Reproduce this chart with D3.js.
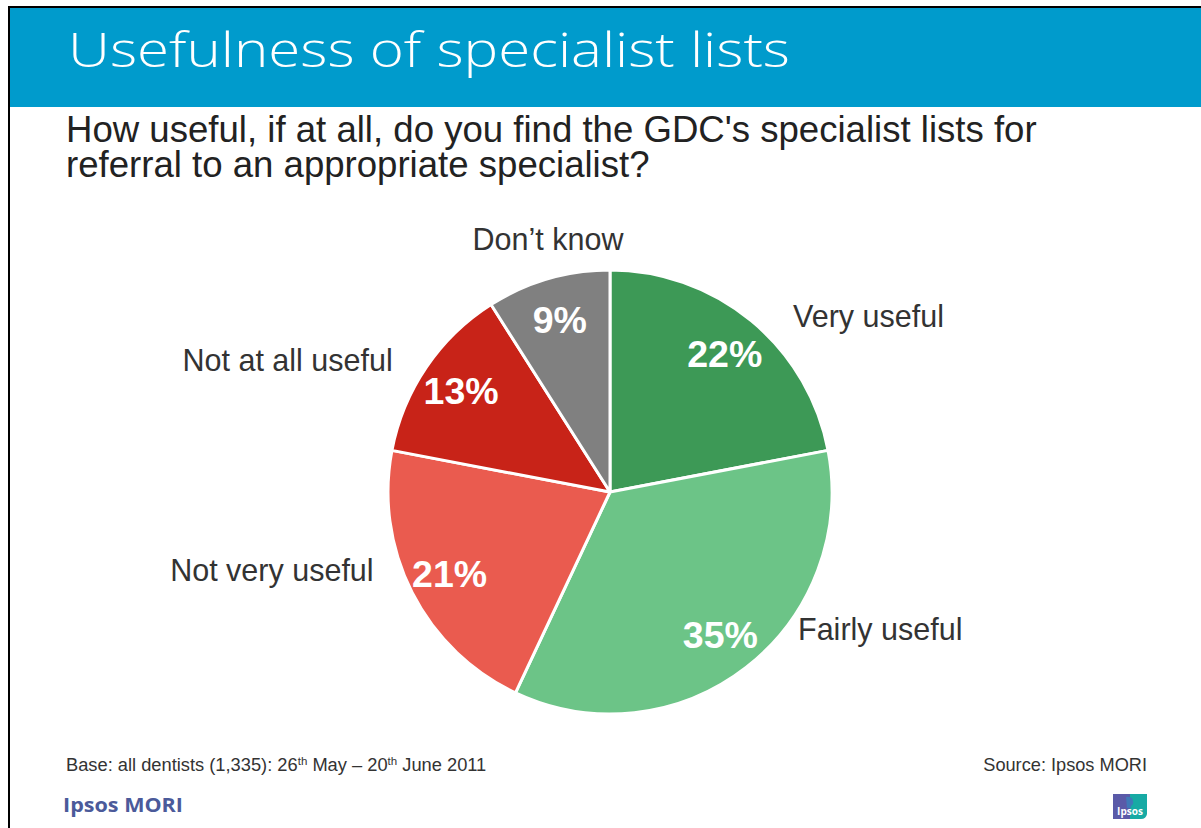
<!DOCTYPE html>
<html>
<head>
<meta charset="utf-8">
<script src="https://cdn.jsdelivr.net/npm/d3@7/dist/d3.min.js"></script>
<style>
  html, body { margin: 0; padding: 0; background: #fff; }
  svg { display: block; }
</style>
</head>
<body>
<svg id="chart" width="1201" height="828"></svg>
<script>
// Survey responses, clockwise from 12 o'clock
const categories = ["Very useful", "Fairly useful", "Not very useful", "Not at all useful", "Don\u2019t know"];
const shares = [22, 35, 21, 13, 9];
const sliceColors = ["#3d9956", "#6cc487", "#ea5b4f", "#c82318", "#808080"];

const titleText = "Usefulness of specialist lists";
const questionLines = [
  "How useful, if at all, do you find the GDC's specialist lists for",
  "referral to an appropriate specialist?"
];

const W = 1201, H = 828;
const svg = d3.select("#chart");

// Frame and header band
svg.append("rect").attr("x", 10).attr("y", 8).attr("width", W - 10).attr("height", 99).attr("fill", "#009bcc");
svg.append("rect").attr("x", 8).attr("y", 6).attr("width", W - 8).attr("height", 2).attr("fill", "#000");
svg.append("rect").attr("x", 8).attr("y", 6).attr("width", 2).attr("height", H - 6).attr("fill", "#000");

svg.append("text")
  .attr("x", 68).attr("y", 67)
  .attr("font-family", "'Open Sans', sans-serif")
  .attr("font-weight", 300)
  .attr("font-size", 47)
  .attr("fill", "#fff")
  .attr("textLength", 722)
  .attr("lengthAdjust", "spacingAndGlyphs")
  .text(titleText);

svg.append("g").selectAll("text")
  .data(questionLines)
  .join("text")
  .attr("x", 66)
  .attr("y", (d, i) => 142 + i * 35)
  .attr("font-family", "'Liberation Sans', Arial, sans-serif")
  .attr("font-size", 36.6)
  .attr("fill", "#222")
  .text(d => d);

// Pie
const cx = 610, cy = 492, R = 222;
const pie = d3.pie().sort(null).value(d => d.value);
const arcs = pie(categories.map((c, i) => ({ name: c, value: shares[i], color: sliceColors[i] })));
const arc = d3.arc().innerRadius(0).outerRadius(R);
const pctArc = d3.arc().innerRadius(180).outerRadius(180);

const g = svg.append("g").attr("transform", `translate(${cx},${cy})`);
g.selectAll("path")
  .data(arcs)
  .join("path")
  .attr("d", arc)
  .attr("fill", d => d.data.color)
  .attr("stroke", "#fff")
  .attr("stroke-width", 3)
  .attr("stroke-linejoin", "round");

g.selectAll("text.pct")
  .data(arcs)
  .join("text")
  .attr("class", "pct")
  .attr("transform", d => `translate(${pctArc.centroid(d)})`)
  .attr("text-anchor", "middle")
  .attr("dy", "0.36em")
  .attr("font-family", "'Liberation Sans', Arial, sans-serif")
  .attr("font-weight", "bold")
  .attr("font-size", 37.5)
  .attr("fill", "#fff")
  .text(d => d.data.value + "%");

// Category names sit outside the rim; small angular nudges keep them clear of the slices
const labelNudge = [[6.5, 254], [-16, 233], [8.7, 249], [-3, 254], [2.4, 260]];
g.selectAll("text.cat")
  .data(arcs)
  .join("text")
  .attr("class", "cat")
  .each(function (d, i) {
    const mid = (d.startAngle + d.endAngle) / 2 + labelNudge[i][0] * Math.PI / 180;
    const r = labelNudge[i][1];
    const x = r * Math.sin(mid), y = -r * Math.cos(mid);
    const anchor = Math.abs(x) < 80 ? "middle" : (x > 0 ? "start" : "end");
    d3.select(this).attr("x", x).attr("y", y).attr("text-anchor", anchor);
  })
  .attr("dy", "0.35em")
  .attr("font-family", "'Liberation Sans', Arial, sans-serif")
  .attr("font-size", 30.5)
  .attr("fill", "#333")
  .text(d => d.data.name);

// Footer
const foot = svg.append("text")
  .attr("x", 66).attr("y", 771)
  .attr("font-family", "'Liberation Sans', Arial, sans-serif")
  .attr("font-size", 18.3)
  .attr("fill", "#333");
foot.append("tspan").text("Base: all dentists (1,335): 26");
foot.append("tspan").attr("font-size", 11.5).attr("dy", -6).text("th");
foot.append("tspan").attr("dy", 6).text(" May \u2013 20");
foot.append("tspan").attr("font-size", 11.5).attr("dy", -6).text("th");
foot.append("tspan").attr("dy", 6).text(" June 2011");

svg.append("text")
  .attr("x", 1147).attr("y", 771)
  .attr("text-anchor", "end")
  .attr("font-family", "'Liberation Sans', Arial, sans-serif")
  .attr("font-size", 18.2)
  .attr("fill", "#333")
  .text("Source: Ipsos MORI");

svg.append("text")
  .attr("x", 63).attr("y", 812)
  .attr("font-family", "'Open Sans', sans-serif")
  .attr("font-weight", 700)
  .attr("font-size", 19)
  .attr("fill", "#4b5a9a")
  .attr("textLength", 120)
  .attr("lengthAdjust", "spacingAndGlyphs")
  .text("Ipsos MORI");

// Ipsos badge
const badge = svg.append("g").attr("transform", "translate(1113,794)");
badge.append("rect").attr("width", 17).attr("height", 25).attr("fill", "#5a5aa8");
badge.append("path").attr("d", "M17,0 H34 V20 Q33,25 28,25 H17 Z").attr("fill", "#17aaa4");
badge.append("path").attr("d", "M13,3 Q19,2 20,7 Q21,10 18,12 L18,14 L14,14 Z").attr("fill", "#3f79b8");
badge.append("text")
  .attr("x", 17).attr("y", 21)
  .attr("text-anchor", "middle")
  .attr("font-family", "'Open Sans', sans-serif")
  .attr("font-weight", 700)
  .attr("font-size", 10)
  .attr("fill", "#fff")
  .text("Ipsos");
</script>
</body>
</html>
